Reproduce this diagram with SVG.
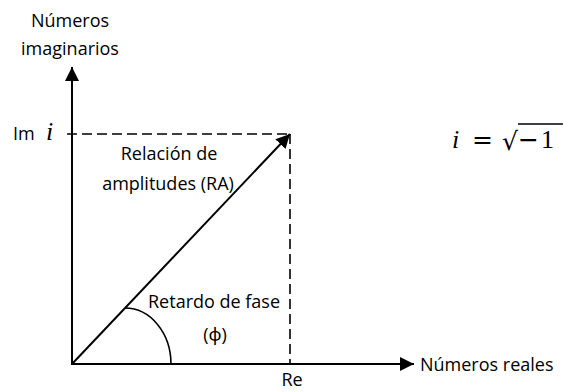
<svg xmlns="http://www.w3.org/2000/svg" width="564" height="392" viewBox="0 0 564 392">
<defs>
<style>
.t{font-family:"Open Sans","Noto Sans","Liberation Sans",sans-serif;font-size:18px;fill:#000}
.m{font-family:"Liberation Serif","DejaVu Serif",serif;font-size:26px;fill:#000}
.s{font-family:"DejaVu Sans",sans-serif;font-size:25px;fill:#000}
.axis{stroke:#000;stroke-width:2;fill:none}
.dash{stroke:#000;stroke-width:1.6;fill:none;stroke-dasharray:10 5}
</style>
<marker id="ah" viewBox="0 0 14 14" refX="14" refY="7" markerWidth="14" markerHeight="14" markerUnits="userSpaceOnUse" orient="auto">
<path d="M0,0 L14,7 L0,14 Z" fill="#000"/>
</marker>
</defs>
<rect width="564" height="392" fill="#fff"/>
<g id="connectors">
<line class="dash" x1="67" y1="134" x2="290" y2="134"/>
<line class="dash" x1="290" y1="134" x2="290" y2="364"/>
<line class="axis" x1="72" y1="365" x2="72" y2="67" marker-end="url(#ah)"/>
<line class="axis" x1="72" y1="364" x2="414" y2="364" marker-end="url(#ah)"/>
<line class="axis" x1="72" y1="364" x2="290" y2="134" marker-end="url(#ah)"/>
<path d="M125,308 A46,56 0 0 1 171,364" stroke="#000" stroke-width="1.6" fill="none"/>
</g>
<g id="y-label">
<text class="t" x="70" y="27" text-anchor="middle">Números</text>
<text class="t" x="70" y="55" text-anchor="middle">imaginarios</text>
</g>
<g id="im-label">
<text class="t" x="13" y="140">Im</text>
<text class="m" x="46" y="140" font-style="italic">i</text>
</g>
<g id="ra-label">
<text class="t" x="169" y="160" text-anchor="middle">Relación de</text>
<text class="t" x="168" y="190" text-anchor="middle">amplitudes (RA)</text>
</g>
<g id="phase-label">
<text class="t" x="148" y="308">Retardo de fase</text>
<text class="t" x="215" y="341" text-anchor="middle">(ϕ)</text>
</g>
<g id="x-label">
<text class="t" x="420" y="371">Números reales</text>
</g>
<g id="re-label">
<text class="t" x="292" y="386" text-anchor="middle">Re</text>
</g>
<g id="formula">
<text class="m" x="452" y="148" font-style="italic">i</text>
<text class="s" x="472" y="148">=</text>
<text class="s" x="502" y="150" font-size="30">√</text>
<line x1="518" y1="124" x2="563" y2="124" stroke="#000" stroke-width="1.5"/>
<text class="s" x="518" y="148">−</text>
<text class="m" x="541" y="148">1</text>
</g>
</svg>
